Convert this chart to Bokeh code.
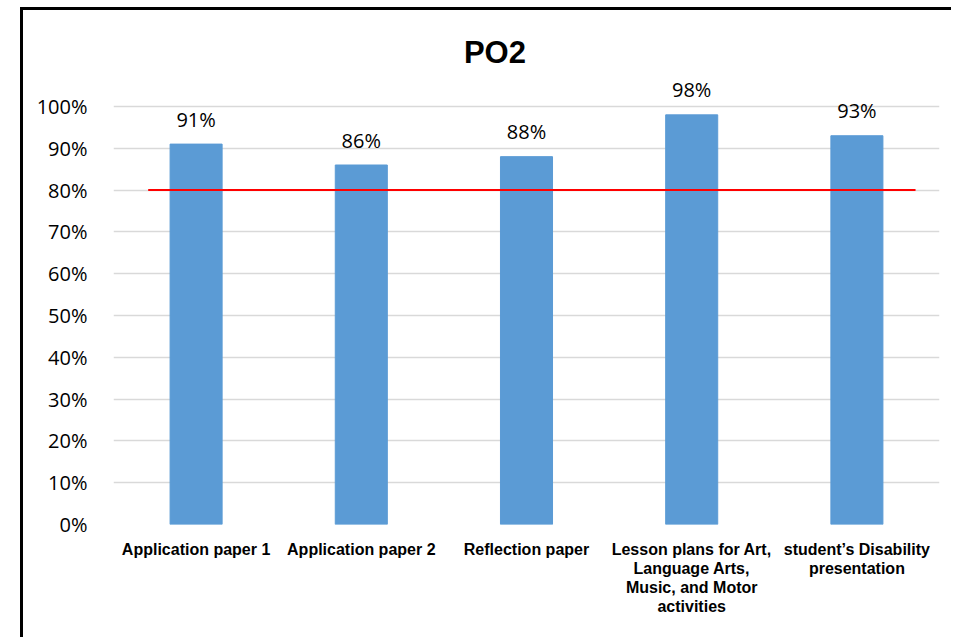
from bokeh.plotting import figure
from bokeh.models import FactorRange, Range1d, FixedTicker, NumeralTickFormatter, ColumnDataSource
from bokeh.core.properties import value
from bokeh.embed import file_html
from bokeh.resources import INLINE

categories = [
    "Application paper 1",
    "Application paper 2",
    "Reflection paper",
    "Lesson plans for Art,\nLanguage Arts,\nMusic, and Motor\nactivities",
    "student\u2019s Disability\npresentation",
]
scores = [0.91, 0.86, 0.88, 0.98, 0.93]
score_labels = ["91%", "86%", "88%", "98%", "93%"]
target = 0.80
y_ticks = [0.0, 0.1, 0.2, 0.3, 0.4, 0.5, 0.6, 0.7, 0.8, 0.9, 1.0]
title_text = "PO2"

src = ColumnDataSource(dict(x=categories, top=scores, label=score_labels))

p = figure(
    width=931, height=630,
    x_range=FactorRange(*categories, range_padding=0),
    y_range=Range1d(0, 1.2057),
    output_backend="svg", toolbar_location=None,
    min_border_left=90, min_border_right=15, min_border_top=10, min_border_bottom=116,
)
p.margin = (7, 0, 0, 20)
p.styles = {"border-left": "3px solid #000000", "border-top": "3px solid #000000"}
p.outline_line_color = None
p.background_fill_color = "white"
p.border_fill_color = "white"

p.vbar(x="x", top="top", width=0.315, source=src, color="#5B9BD5")

p.line(x=[0.21, len(categories) - 0.145], y=[target, target], line_color="#FF0000", line_width=2)

p.text(x="x", y="top", text="label", source=src, y_offset=-25,
       text_align="center", text_baseline="middle",
       text_font=value("Open Sans"), text_font_size="20px", text_color="#000000")

p.text(x=[2.309], y=[1.129], text=[title_text], text_align="center", text_baseline="middle",
       text_font=value("Liberation Sans"), text_font_style="bold", text_font_size="31px",
       text_color="#000000")

p.xgrid.grid_line_color = None
p.ygrid.ticker = FixedTicker(ticks=y_ticks)
p.ygrid.grid_line_color = "#D9D9D9"
p.ygrid.grid_line_width = 1.5

p.yaxis.ticker = FixedTicker(ticks=y_ticks)
p.yaxis.formatter = NumeralTickFormatter(format="0%")
p.yaxis.axis_line_color = None
p.yaxis.major_tick_line_color = None
p.yaxis.minor_tick_line_color = None
p.yaxis.major_label_text_font = "Open Sans"
p.yaxis.major_label_text_font_size = "20px"
p.yaxis.major_label_text_color = "#000000"
p.yaxis.major_label_standoff = 20

p.xaxis.axis_line_color = None
p.xaxis.major_tick_line_color = None
p.xaxis.minor_tick_line_color = None
p.xaxis.major_label_text_font = "Liberation Sans"
p.xaxis.major_label_text_font_style = "bold"
p.xaxis.major_label_text_font_size = "16px"
p.xaxis.major_label_text_color = "#000000"
p.xaxis.major_label_standoff = 10
p.xaxis.major_label_text_line_height = 1.13

open("out.html", "w").write(file_html(p, INLINE))
